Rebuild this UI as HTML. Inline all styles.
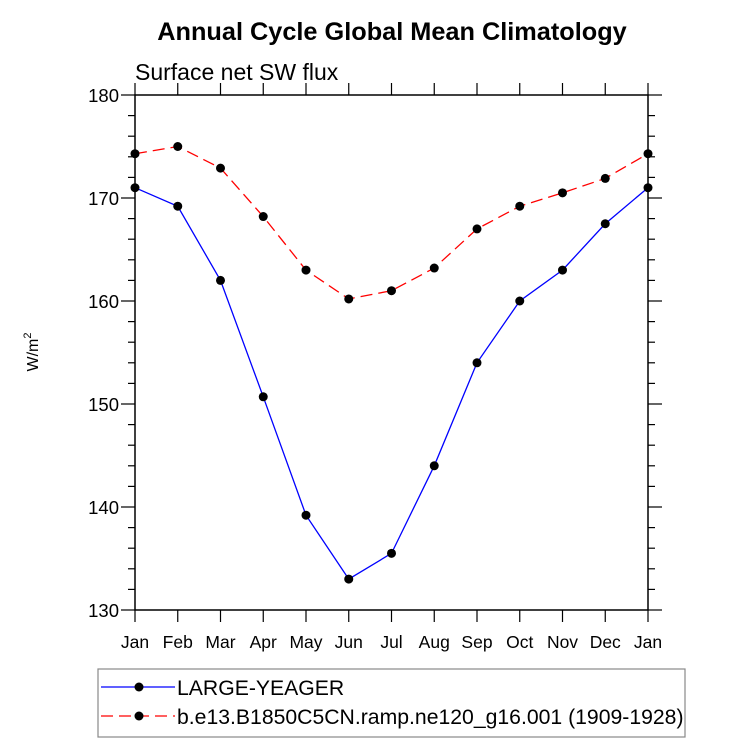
<!DOCTYPE html>
<html><head><meta charset="utf-8"><style>body{margin:0;background:#fff}svg{display:block;font-family:"Liberation Sans",sans-serif}</style></head>
<body>
<svg id="c" width="733" height="744">
<text x="392" y="40" font-size="25.3" font-weight="bold" text-anchor="middle">Annual Cycle Global Mean Climatology</text>
<text x="135" y="80" font-size="23">Surface net SW flux</text>
<text transform="translate(38,352) rotate(-90)" font-size="16" text-anchor="middle">W/m<tspan dy="-7" font-size="11">2</tspan></text>
<g id="axes"></g><g id="series"></g>
<rect x="98" y="669" width="587" height="68" fill="none" stroke="#888" stroke-width="1.2"/>
<g>
<line x1="101" y1="687" x2="175" y2="687" stroke="#00f" stroke-width="1.2"/><circle cx="139" cy="687" r="4.5"/>
<text x="177" y="695" font-size="21.2">LARGE-YEAGER</text></g>
<g>
<line x1="101" y1="716" x2="175" y2="716" stroke="#f00" stroke-width="1.2" stroke-dasharray="12,6"/><circle cx="139" cy="716" r="4.5"/>
<text x="177" y="724" font-size="21.2">b.e13.B1850C5CN.ramp.ne120_g16.001 (1909-1928)</text></g>
</svg>
<script>
const months=["Jan","Feb","Mar","Apr","May","Jun","Jul","Aug","Sep","Oct","Nov","Dec","Jan"];
const blueVals=[171,169.2,162,150.7,139.2,133,135.5,144,154,160,163,167.5,171];
const redVals=[174.3,175,172.9,168.2,163,160.2,161,163.2,167,169.2,170.5,171.9,174.3];
const yTicks=[130,140,150,160,170,180];
const X0=135,X1=648,Y0=95,Y1=610,ymin=130,ymax=180;
const sx=i=>X0+(X1-X0)*i/12, sy=v=>Y1-(v-ymin)/(ymax-ymin)*(Y1-Y0);
const NS="http://www.w3.org/2000/svg";
function mk(t,a,p){const e=document.createElementNS(NS,t);for(const k in a)e.setAttribute(k,a[k]);p.appendChild(e);return e;}
const ax=document.getElementById('axes'),se=document.getElementById('series');
const fr=mk('rect',{x:X0,y:Y0,width:X1-X0,height:Y1-Y0,fill:'none',stroke:'#000','stroke-width':1.5},ax);


months.forEach((m,i)=>{const x=sx(i);
mk('line',{x1:x,y1:Y1,x2:x,y2:Y1+12,stroke:'#000','stroke-width':1.2},ax);
mk('line',{x1:x,y1:Y0,x2:x,y2:Y0-12,stroke:'#000','stroke-width':1.2},ax);
const t=mk('text',{x:x,y:Y1+38,'font-size':17.5,'text-anchor':'middle'},ax);t.textContent=m;

});
for(let v=ymin;v<=ymax;v+=2){const y=sy(v),maj=v%10===0,L=maj?14:7;
mk('line',{x1:X0-L,y1:y,x2:X0,y2:y,stroke:'#000','stroke-width':1.2},ax);
mk('line',{x1:X1,y1:y,x2:X1+L,y2:y,stroke:'#000','stroke-width':1.2},ax);}
yTicks.forEach(v=>{const t=mk('text',{x:X0-16,y:sy(v)+7,'font-size':18.5,'text-anchor':'end'},ax);t.textContent=v;

});
function series(vals,col,dash,name){
const p=mk('polyline',{points:vals.map((v,i)=>sx(i)+','+sy(v)).join(' '),fill:'none',stroke:col,'stroke-width':1.3,'stroke-dasharray':dash},se);


vals.forEach((v,i)=>{const c=mk('circle',{cx:sx(i),cy:sy(v),r:4.5},se);

});}
series(redVals,'#f00','12,6','b-e13');
series(blueVals,'#00f','none','large-yeager');
</script>
</body></html>
